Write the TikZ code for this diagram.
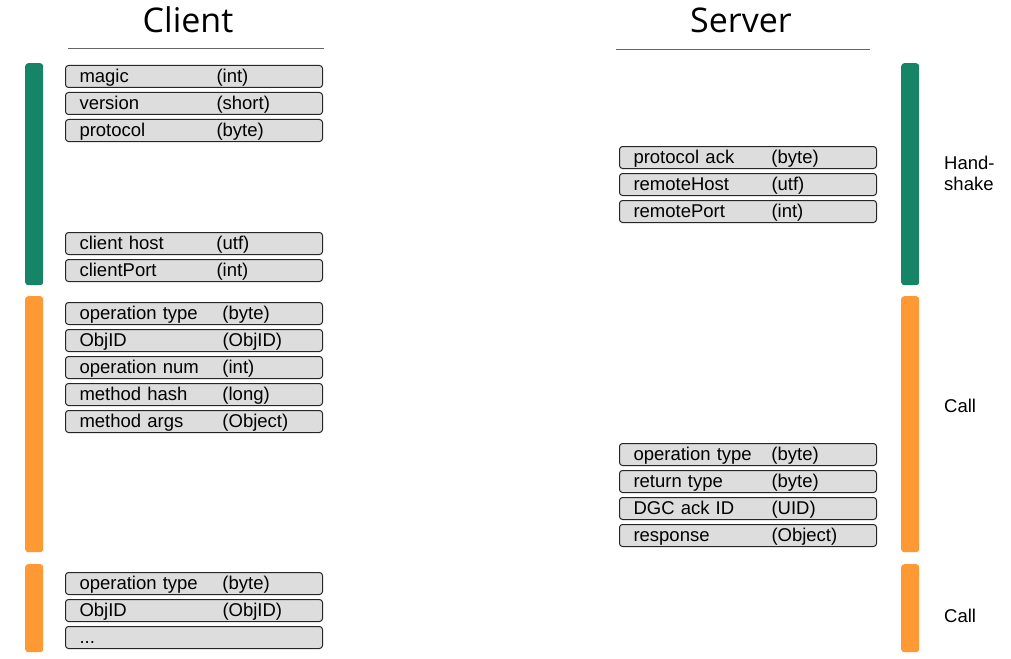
\documentclass[tikz,border=0pt]{standalone}
\usepackage{fontspec}
\setmainfont{Liberation Sans}
\newfontfamily\titlefont{Open Sans}
\usepackage{xcolor}
\definecolor{hsgreen}{RGB}{22,132,102}
\definecolor{callorange}{RGB}{255,153,51}
\definecolor{boxgray}{RGB}{221,221,221}
\usetikzlibrary{positioning}
\newcommand{\fieldfont}{\fontsize{18.5}{21}\selectfont}
\newcommand{\fieldtext}[3]{\makebox[#3pt][l]{#1}#2}
\tikzset{
  field/.style={draw=black!85, line width=1pt, rounded corners=3pt, fill=boxgray,
    minimum height=22pt, text width=229pt, inner xsep=14pt, inner ysep=0pt,
    text height=15pt, text depth=3pt,
    align=left, anchor=north west, font=\fieldfont},
  phasebar/.style={rounded corners=3pt, minimum width=18pt, inner sep=0pt, anchor=north west},
  phaselabel/.style={anchor=west, align=left, inner xsep=0pt, font=\fieldfont},
  sidetitle/.style={font=\titlefont\fontsize{34}{40}\selectfont},
}
\begin{document}
\begin{tikzpicture}[x=1pt, y=-1pt]
  \useasboundingbox (0,0) rectangle (1011,658);
  % titles
  \node[sidetitle] (client) at (188,20) {Client};
  \node[sidetitle] (server) at (741,20) {Server};
  \draw[black!60, line width=1pt] (68,49) -- (324,49);
  \draw[black!60, line width=1pt] (616,50) -- (870,50);
  % phase bars
  \node[phasebar, fill=hsgreen, minimum height=222pt] (hsclient) at (25,63) {};
  \node[phasebar, fill=callorange, minimum height=256pt] (callclient) at (25,296) {};
  \node[phasebar, fill=callorange, minimum height=88pt] (nextclient) at (25,564) {};
  \node[phasebar, fill=hsgreen, minimum height=222pt] (hsserver) at (901,63) {};
  \node[phasebar, fill=callorange, minimum height=256pt] (callserver) at (901,296) {};
  \node[phasebar, fill=callorange, minimum height=88pt] (nextserver) at (901,564) {};
  \node[phaselabel] (hslabel) at (944,173) {Hand-\\shake};
  \node[phaselabel] (calllabel) at (944,406) {Call};
  \node[phaselabel] (nextlabel) at (944,616) {Call};
  % client handshake
  \foreach \n/\t [count=\i] in {magic/(int), version/(short), protocol/(byte)}
    \node[field] (chs\i) at (65,{38+27*\i}) {\fieldtext{\n}{\t}{137}};
  \foreach \n/\t [count=\i] in {client host/(utf), clientPort/(int)}
    \node[field] (cport\i) at (65,{205+27*\i}) {\fieldtext{\n}{\t}{137}};
  % client call
  \foreach \n/\t [count=\i] in {operation type/(byte), ObjID/(ObjID), operation num/(int),
      method hash/(long), method args/(Object)}
    \node[field] (ccall\i) at (65,{275+27*\i}) {\fieldtext{\n}{\t}{143}};
  \foreach \n/\t [count=\i] in {operation type/(byte), ObjID/(ObjID)}
    \node[field] (cnext\i) at (65,{545+27*\i}) {\fieldtext{\n}{\t}{143}};
  \node[field] (cnext3) at (65,626) {...};
  % server handshake
  \foreach \n/\t [count=\i] in {protocol ack/(byte), remoteHost/(utf), remotePort/(int)}
    \node[field] (shs\i) at (619,{119+27*\i}) {\fieldtext{\n}{\t}{138}};
  % server return
  \foreach \n/\t [count=\i] in {operation type/(byte), return type/(byte),
      DGC ack ID/(UID), response/(Object)}
    \node[field] (sret\i) at (619,{416+27*\i}) {\fieldtext{\n}{\t}{138}};
\end{tikzpicture}
\end{document}
